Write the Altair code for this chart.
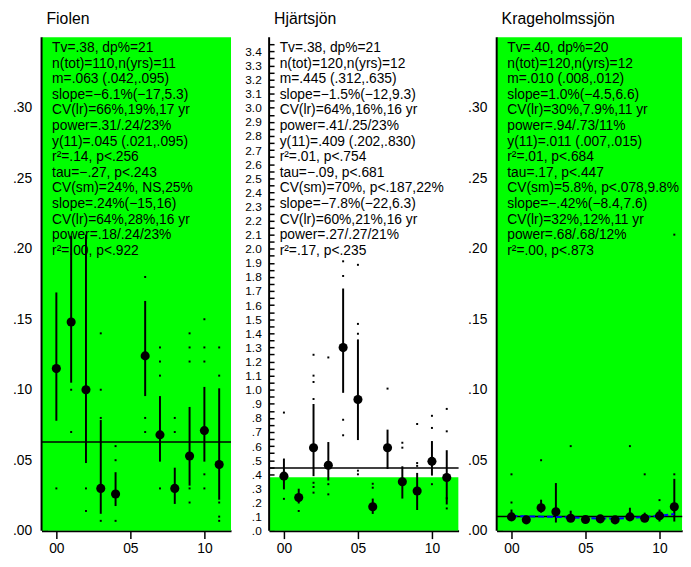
import altair as alt
import pandas as pd

FONT = "Liberation Sans"
GREEN = "#00ff00"
years = list(range(12))

# ---------------- Fiolen ----------------
f_title = "Fiolen"
f_mean = [0.115, 0.148, 0.100, 0.030, 0.026, None, 0.124, 0.068, 0.030, 0.053, 0.071, 0.047]
f_lo = [0.078, 0.105, 0.048, 0.012, 0.0175, None, 0.0955, 0.049, 0.019, 0.032, 0.049, 0.022]
f_hi = [0.169, 0.209, 0.210, 0.0785, 0.0415, None, 0.163, 0.0955, 0.0447, 0.0878, 0.102, 0.101]
f_dot_year = [0, 1, 1, 2, 2, 3, 3, 3, 3, 4, 4, 4, 6, 6, 6, 7, 7, 7, 7, 8, 8,
              9, 9, 9, 9, 9, 10, 10, 10, 10, 10, 11, 11, 11, 11, 11]
f_dot_val = [0.03, 0.10, 0.07, 0.03, 0.014, 0.14, 0.10, 0.08, 0.007, 0.06, 0.05, 0.007,
             0.18, 0.08, 0.07, 0.13, 0.12, 0.11, 0.03, 0.08, 0.07,
             0.14, 0.13, 0.12, 0.03, 0.02, 0.15, 0.13, 0.12, 0.04, 0.03,
             0.13, 0.11, 0.02, 0.01, 0.007]
f_m = 0.063
f_tv = 0.38
f_text = [
    "Tv=.38, dp%=21",
    "n(tot)=110,n(yrs)=11",
    "m=.063 (.042,.095)",
    "slope=\u22126.1%(\u221217,5.3)",
    "CV(lr)=66%,19%,17 yr",
    "power=.31/.24/23%",
    "y(11)=.045 (.021,.095)",
    "r\u00b2=.14, p<.256",
    "tau=\u2212.27, p<.243",
    "CV(sm)=24%, NS,25%",
    "slope=.24%(\u221215,16)",
    "CV(lr)=64%,28%,16 yr",
    "power=.18/.24/23%",
    "r\u00b2=.00, p<.922",
]

# ---------------- Hjärtsjön ----------------
h_title = "Hjärtsjön"
h_mean = [0.387, 0.235, 0.589, 0.464, 1.299, 0.931, 0.170, 0.589, 0.347, 0.282, 0.492, 0.377]
h_lo = [0.293, 0.193, 0.387, 0.356, 0.978, 0.643, 0.119, 0.438, 0.228, 0.147, 0.391, 0.186]
h_hi = [0.512, 0.298, 0.899, 0.629, 1.718, 1.357, 0.228, 0.717, 0.457, 0.410, 0.636, 0.571]
h_dot_year = [0, 0, 1, 2, 2, 2, 2, 2, 2, 2, 3, 3, 3, 4, 4, 4, 4, 5, 5, 5, 5, 5,
              6, 6, 7, 8, 8, 9, 9, 9, 10, 10, 10, 11, 11, 11, 11]
h_dot_val = [0.838, 0.226, 0.14, 1.248, 1.10, 1.055, 0.934, 0.34, 0.31, 0.27,
             1.229, 0.33, 0.258, 1.911, 1.807, 0.787, 0.677,
             1.886, 1.467, 1.397, 0.426, 0.40, 0.333, 0.305, 1.008,
             0.624, 0.589, 0.757, 0.48, 0.46, 0.815, 0.729, 0.33,
             0.864, 0.705, 0.23, 0.158]
h_m = 0.445
h_tv = 0.38
h_text = [
    "Tv=.38, dp%=21",
    "n(tot)=120,n(yrs)=12",
    "m=.445 (.312,.635)",
    "slope=\u22121.5%(\u221212,9.3)",
    "CV(lr)=64%,16%,16 yr",
    "power=.41/.25/23%",
    "y(11)=.409 (.202,.830)",
    "r\u00b2=.01, p<.754",
    "tau=\u2212.09, p<.681",
    "CV(sm)=70%, p<.187,22%",
    "slope=\u22127.8%(\u221222,6.3)",
    "CV(lr)=60%,21%,16 yr",
    "power=.27/.27/21%",
    "r\u00b2=.17, p<.235",
]

# ---------------- Krageholmssjön ----------------
k_title = "Krageholmssjön"
k_mean = [0.0098, 0.0077, 0.0163, 0.0135, 0.0088, 0.0079, 0.0084, 0.0077, 0.0098, 0.0088, 0.0105, 0.017]
k_lo = [0.007, 0.0077, 0.0128, 0.0058, 0.0065, 0.0079, 0.0084, 0.0077, 0.007, 0.0075, 0.0065, 0.0065]
k_hi = [0.015, 0.0077, 0.022, 0.0338, 0.0142, 0.0079, 0.0084, 0.0077, 0.0163, 0.0128, 0.015, 0.0368]
k_dot_year = [0, 0, 2, 4, 8, 9, 10, 11, 11]
k_dot_val = [0.04, 0.02, 0.05, 0.06, 0.06, 0.04, 0.0217, 0.04, 0.21]
k_trend = [0.0105, 0.0102, 0.0100, 0.0098, 0.0094, 0.0089, 0.0086, 0.0086, 0.0090, 0.0097, 0.0106, 0.0118]
k_m = 0.010
k_tv = 0.40
k_text = [
    "Tv=.40, dp%=20",
    "n(tot)=120,n(yrs)=12",
    "m=.010 (.008,.012)",
    "slope=1.0%(\u22124.5,6.6)",
    "CV(lr)=30%,7.9%,11 yr",
    "power=.94/.73/11%",
    "y(11)=.011 (.007,.015)",
    "r\u00b2=.01, p<.684",
    "tau=.17, p<.447",
    "CV(sm)=5.8%, p<.078,9.8%",
    "slope=\u2212.42%(\u22128.4,7.6)",
    "CV(lr)=32%,12%,11 yr",
    "power=.68/.68/12%",
    "r\u00b2=.00, p<.873",
]

x_ticks = [0, 5, 10]
small_ticks = [round(i * 0.025, 3) for i in range(14)]     # 0 .. .325
big_ticks = [round(i * 0.05, 2) for i in range(70)]        # 0 .. 3.45

small_label = ("abs(datum.value*20 - round(datum.value*20)) < 0.001 ? "
               "substring(format(datum.value, '.2f'), 1) : ''")
big_label = ("abs(datum.value*10 - round(datum.value*10)) < 0.001 ? "
             "(datum.value < 1 ? substring(format(datum.value, '.1f'), 1) : format(datum.value, '.1f')) : ''")


def panel(title, mean, lo, hi, dyear, dval, m, tv, text, ymax, yticks, ylabel,
          ylabsize, ypad, ytick, width, xmax, trend=None):
    xs = alt.Scale(domain=[-1, xmax], nice=False, zero=False)
    ys = alt.Scale(domain=[0, ymax], nice=False, zero=False)
    xa = alt.Axis(values=x_ticks, labelExpr="format(datum.value, '02d')", tickSize=8,
                  tickWidth=1.5, domainWidth=2, labelFontSize=14, labelPadding=3.5,
                  grid=False, title=None, labelFlush=False)
    ya = alt.Axis(values=yticks, labelExpr=ylabel, offset=-ytick, domain=False,
                  tickSize=ytick, tickWidth=1.5, labelPadding=ypad, labelFontSize=ylabsize,
                  labelOverlap=False, labelFlush=False, grid=False, title=None)

    def X(f):
        return alt.X(f, type="quantitative", scale=xs, axis=xa)

    def Y(f):
        return alt.Y(f, type="quantitative", scale=ys, axis=ya)

    bg = alt.Chart(pd.DataFrame({"a": [-1], "b": [xmax], "z": [0], "tv": [tv]})).mark_rect(
        color=GREEN, clip=True).encode(x=X("a"), x2="b", y=Y("z"), y2="tv")
    left = alt.Chart(pd.DataFrame({"a": [-1]})).mark_rule(color="black", strokeWidth=2).encode(x=X("a"))
    df = pd.DataFrame({"year": years, "mean": mean, "lo": lo, "hi": hi})
    df = df.dropna()
    mline = alt.Chart(pd.DataFrame({"m": [m]})).mark_rule(color="black", strokeWidth=1.5).encode(y=Y("m"))
    err = alt.Chart(df).mark_rule(color="black", strokeWidth=2).encode(x=X("year"), y=Y("lo"), y2="hi")
    dots = alt.Chart(pd.DataFrame({"year": dyear, "v": dval})).mark_square(
        color="black", size=4, opacity=1).encode(x=X("year"), y=Y("v"))
    pts = alt.Chart(df).mark_circle(color="black", size=85, opacity=1).encode(x=X("year"), y=Y("mean"))
    txt = alt.Chart(pd.DataFrame({"t": [0]})).mark_text(
        text=text, align="left", baseline="top", font=FONT, fontSize=14, lineHeight=15.8,
        color="black", clip=True).encode(x=alt.value(10.7), y=alt.value(4))
    layers = [bg, left, mline, err, dots]
    if trend is not None:
        tr = alt.Chart(pd.DataFrame({"year": years, "t": trend})).mark_line(
            color="#0000ff", strokeWidth=2, strokeDash=[6, 3]).encode(x=X("year"), y=Y("t"))
        layers.append(tr)
    layers += [pts, txt]
    return alt.layer(*layers).properties(
        width=width, height=500,
        title=alt.TitleParams(title, anchor="start", frame="group", fontSize=16, font=FONT,
                              fontWeight="normal", dx=5, offset=9, color="black"))


p1 = panel(f_title, f_mean, f_lo, f_hi, f_dot_year, f_dot_val, f_m, f_tv, f_text,
           0.35, small_ticks, small_label, 14, 10, 6, 192, 11.8)
p2 = panel(h_title, h_mean, h_lo, h_hi, h_dot_year, h_dot_val, h_m, h_tv, h_text,
           3.5, big_ticks, big_label, 12, 8, 5, 192, 11.8)
p3 = panel(k_title, k_mean, k_lo, k_hi, k_dot_year, k_dot_val, k_m, k_tv, k_text,
           0.35, small_ticks, small_label, 14, 10, 6, 188, -1 + 188 / 15, trend=k_trend)

chart = alt.hconcat(p1, p2, p3, spacing=38.6, bounds="flush").properties(
    padding={"left": 4, "right": 0, "top": 0, "bottom": 0}
).configure_view(stroke=None).configure_axis(
    domainColor="black", tickColor="black", labelColor="black", labelFont=FONT
)

chart.save("out.html", embed_options={"renderer": "svg", "actions": False})
